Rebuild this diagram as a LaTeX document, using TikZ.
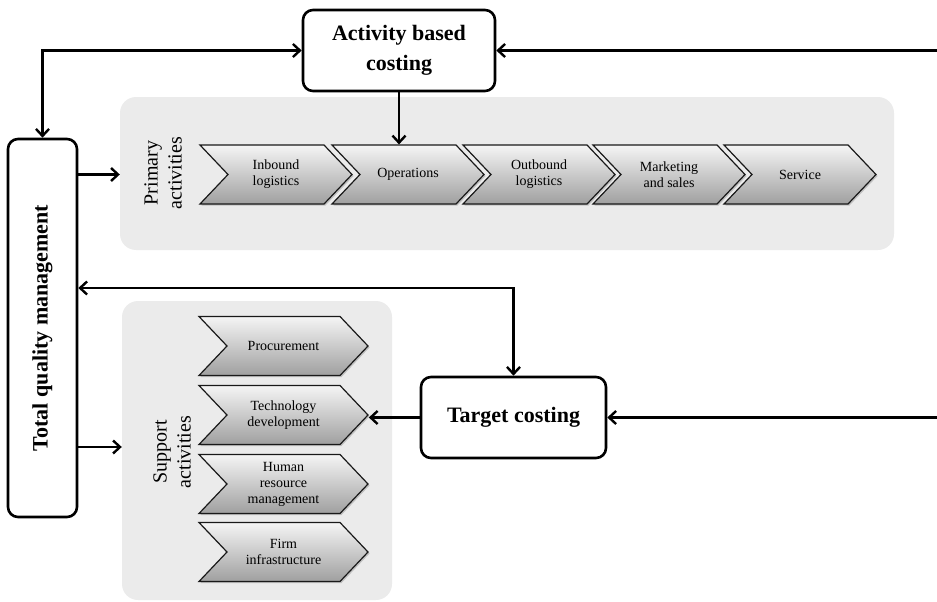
\documentclass[tikz,border=0pt]{standalone}
\usepackage{graphicx}
\usepackage{fontspec}
\setmainfont{Liberation Serif}
\usetikzlibrary{positioning,arrows.meta,shapes.symbols,shadows}

\begin{document}
\begin{tikzpicture}[
    x=1pt, y=-1pt,
    box/.style={
        rectangle,
        draw,
        line width=2.6pt,
        rounded corners=10pt,
        align=center,
        font=\fontsize{22}{30}\selectfont\bfseries
    },
    panel/.style={
        rectangle,
        fill=gray!16,
        rounded corners=16pt,
        inner sep=0pt
    },
    chevron/.style={
        signal,
        signal from=west,
        signal to=east,
        signal pointer angle=93,
        draw=gray!20!black,
        line width=1.2pt,
        top color=gray!8,
        bottom color=gray!75,
        drop shadow={shadow xshift=1.5pt, shadow yshift=-1.5pt, opacity=0.4},
        minimum height=59pt,
        inner sep=0pt,
        align=center,
        font=\fontsize{14}{16}\selectfont
    },
    sidelabel/.style={
        rotate=90,
        align=center,
        font=\fontsize{20}{24}\selectfont
    },
    arrow/.style={
        -{Straight Barb[length=7pt,width=13pt]},
        line width=2.4pt
    },
    twoway/.style={
        {Straight Barb[length=7pt,width=13pt]}-{Straight Barb[length=7pt,width=13pt]},
        line width=2.4pt
    }
]
\useasboundingbox (0,0) rectangle (937,602);

% ---------------- PANELS ----------------
\node[panel, minimum width=774pt, minimum height=153pt] (primary) at (507,173.5) {};
\node[panel, minimum width=270pt, minimum height=299pt] (support) at (257,450.5) {};

\node[sidelabel] (plabel) at (163,173) {Primary\\activities};
\node[sidelabel] (slabel) at (172,452) {Support\\activities};

% ---------------- PRIMARY ACTIVITIES ----------------
\node[chevron, minimum width=152pt] (inbound) at (276,174.5) {Inbound\\logistics};
\node[chevron, minimum width=152pt] (ops) at (408,174.5) {Operations};
\node[chevron, minimum width=152pt] (outbound) at (539,174.5) {Outbound\\logistics};
\node[chevron, minimum width=152pt] (marketing) at (669,174.5) {Marketing\\and sales};
\node[chevron, minimum width=152pt] (service) at (800,174.5) {Service};

% ---------------- SUPPORT ACTIVITIES ----------------
\node[chevron, minimum width=169pt] (procure) at (283.5,346) {Procurement};
\node[chevron, minimum width=169pt] (tech) at (283.5,415) {Technology\\development};
\node[chevron, minimum width=169pt] (hrm) at (283.5,484) {Human\\resource\\management};
\node[chevron, minimum width=169pt] (firm) at (283.5,552) {Firm\\infrastructure};

% ---------------- COSTING AND QUALITY ----------------
\node[box, minimum width=192pt, minimum height=81pt] (abc) at (399,50.5) {Activity based\\costing};
\node[box, minimum width=185pt, minimum height=81pt] (target) at (513.5,417.5) {Target costing};
\node[box, minimum width=69pt, minimum height=378pt] (tqm) at (42.5,328)
    {\rotatebox{90}{Total quality management}};

\coordinate (abcin) at (937,50.5);
\coordinate (targetin) at (937,417.5);

% ---------------- ARROWS ----------------
\draw[twoway] (tqm.north) |- (abc.west);
\draw[arrow] (abcin) -- (abc.east);
\draw[arrow] (abc.south) -- (abc.south |- ops.north);
\draw[arrow] (tqm.east |- ops) -- (primary.west |- ops);
\draw[twoway] ([yshift=40pt]tqm.east) -| (target.north);
\draw[arrow] ([yshift=-119pt]tqm.east) -- ([yshift=-119pt]tqm.east -| support.west);
\draw[arrow] (target.west) -- (target.west -| tech.east);
\draw[arrow] (targetin) -- (target.east);

\end{tikzpicture}
\end{document}
